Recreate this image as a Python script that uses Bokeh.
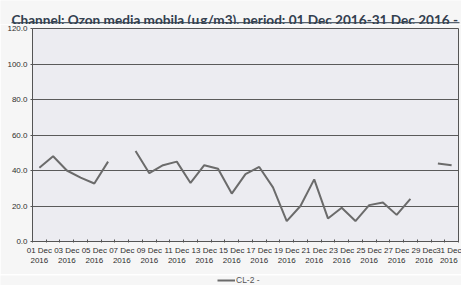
import numpy as np
from bokeh.plotting import figure
from bokeh.layouts import column
from bokeh.models import (FixedTicker, Legend, LegendItem, ColumnDataSource,
                          NumeralTickFormatter, Range1d)
from bokeh.core.properties import value
from bokeh.embed import file_html
from bokeh.resources import INLINE

# ---- data ----
days = list(range(1, 32))
ozone = [41.5, 48, 40, 36, 32.7, 45, None, 51, 38.5, 43, 45, 33, 43, 41, 27,
         38, 42, 30.5, 11.5, 20, 35, 13, 19, 11.5, 20.5, 22, 15, 24, None, 44, 43]
tick_days = days[::2]
tick_labels = [f"{d:02d} Dec\n2016" for d in tick_days]
y_ticks = [0, 20, 40, 60, 80, 100, 120]
title_text = "Channel:  Ozon media mobila (\u00b5g/m3), period: 01 Dec 2016-31 Dec 2016 -"
series_name = "CL-2 -"

W = 461
BG = "#f6f6f6"
TITLE_COLOR = "#33404f"
LINE_COLOR = "#6b6b6b"


def strip(h, xr, yr):
    f = figure(width=W, height=h, output_backend="svg", toolbar_location=None,
               x_range=xr, y_range=yr, x_axis_type=None, y_axis_type=None,
               min_border=0, min_border_left=0, min_border_right=0,
               min_border_top=0, min_border_bottom=0, frame_align=False)
    f.grid.visible = False
    f.outline_line_color = None
    f.border_fill_color = BG
    f.background_fill_color = BG
    return f


# ---- title strip (text + underline) ----
TH = 24
tf = strip(TH, Range1d(0, W), Range1d(0, TH))
tf.text(x=[11], y=[4.5], text=[title_text], text_font=value("Lato"),
        text_font_style="bold", text_font_size="13.6px",
        text_color=TITLE_COLOR, text_baseline="alphabetic", text_align="left")
tf.segment(x0=[11], y0=[1.8], x1=[459], y1=[1.8], line_color=TITLE_COLOR,
           line_width=1)

# ---- main chart ----
vals = [np.nan if v is None else v for v in ozone]
src = ColumnDataSource(dict(day=days, val=vals))

MH = 250
p = figure(width=W, height=MH, output_backend="svg", toolbar_location=None,
           x_range=Range1d(days[0] - 0.5, days[-1] + 0.5),
           y_range=Range1d(y_ticks[0], y_ticks[-1]),
           min_border_left=32, min_border_right=3, min_border_top=4,
           min_border_bottom=33, frame_align=False)
p.border_fill_color = BG
p.background_fill_color = "#ececf1"
p.outline_line_color = "#555555"
p.outline_line_width = 1

r = p.line("day", "val", source=src, line_color=LINE_COLOR, line_width=2)

xt = FixedTicker(ticks=tick_days,
                 minor_ticks=[d - 0.5 for d in days] + [days[-1] + 0.5])
p.xaxis.ticker = xt
p.xaxis.major_label_overrides = {d: l for d, l in zip(tick_days, tick_labels)}
p.xaxis.major_tick_out = 0
p.xaxis.major_tick_in = 0
p.xaxis.minor_tick_in = 2
p.xaxis.minor_tick_out = 1
p.xaxis.minor_tick_line_color = "#555555"
p.xaxis.axis_line_color = "#555555"
p.xaxis.major_label_text_font = "Liberation Sans"
p.xaxis.major_label_text_font_size = "8px"
p.xaxis.major_label_text_color = "#2e2e2e"
p.xaxis.major_label_standoff = 3
p.xgrid.grid_line_color = None

p.yaxis.ticker = FixedTicker(ticks=y_ticks, minor_ticks=[])
p.yaxis.formatter = NumeralTickFormatter(format="0.0")
p.yaxis.major_tick_out = 2
p.yaxis.major_tick_in = 0
p.yaxis.major_tick_line_color = "#555555"
p.yaxis.axis_line_color = "#555555"
p.yaxis.major_label_text_font = "Liberation Sans"
p.yaxis.major_label_text_font_size = "8px"
p.yaxis.major_label_text_color = "#2e2e2e"
p.yaxis.major_label_standoff = 3
p.ygrid.grid_line_color = "#5a5a5a"
p.ygrid.grid_line_width = 1

# ---- legend strip ----
LH = 285 - TH - MH
lf = strip(LH, Range1d(0, 1), Range1d(0, 1))
lr = lf.line(x=[2, 3], y=[2, 3], line_color=LINE_COLOR, line_width=2)
legend = Legend(items=[LegendItem(label=series_name, renderers=[lr])],
                location=(217, 0), orientation="horizontal",
                border_line_color=None, background_fill_alpha=0,
                label_text_font="Liberation Sans", label_text_font_size="8.5px",
                label_text_color="#555555",
                glyph_width=18, glyph_height=6, label_height=9,
                label_standoff=1, padding=0, margin=0, spacing=0)
lf.add_layout(legend, "center")

layout = column(tf, p, lf, spacing=0)
open("out.html", "w").write(file_html(layout, INLINE))
